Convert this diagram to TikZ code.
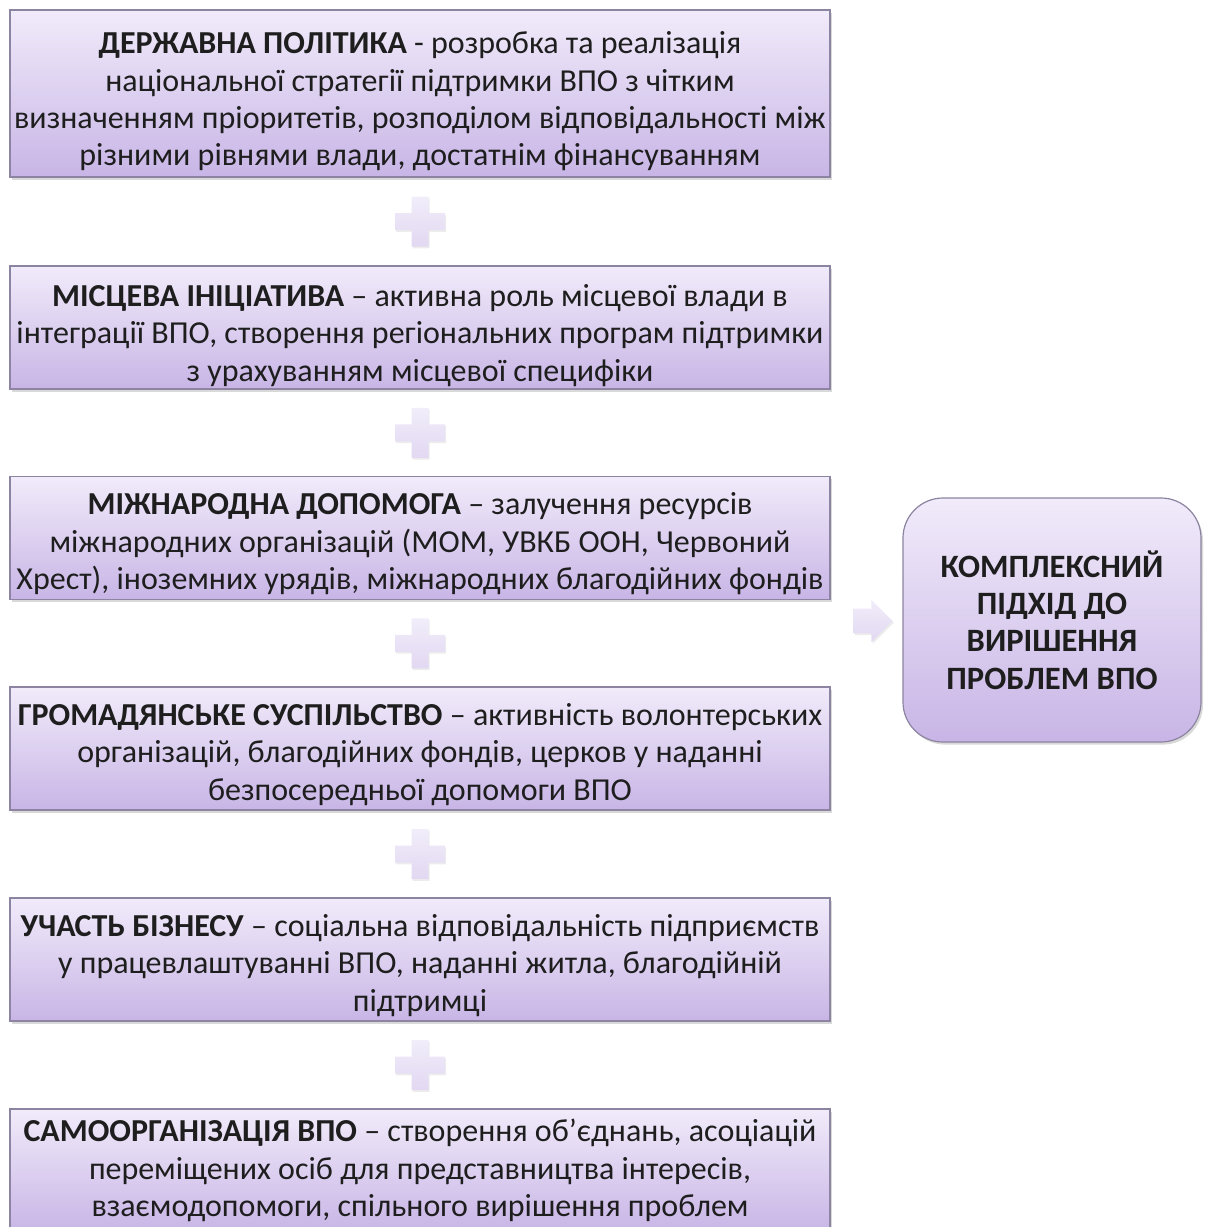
\documentclass[tikz,border=0pt]{standalone}
\usepackage{fontspec}
\setmainfont{Carlito}
\usetikzlibrary{calc,shadows,shapes.arrows}

\definecolor{boxtop}{HTML}{F1EBFA}
\definecolor{boxbot}{HTML}{C8B5E6}
\definecolor{boxedge}{HTML}{8C84A0}
\definecolor{signtop}{HTML}{F1EDFA}
\definecolor{signbot}{HTML}{E2D8F2}
\definecolor{ink}{HTML}{1E1E1E}

% extra room above the first line, pushes the text a bit down
\newcommand{\topgap}[1][17pt]{\rule{0pt}{#1}}

\tikzset{
  panel/.style={draw=boxedge, line width=0.6pt, top color=boxtop, bottom color=boxbot,
    inner sep=0pt, align=center, text=ink,
    drop shadow={shadow xshift=1pt, shadow yshift=-1.3pt, opacity=0.3}},
  stage/.style={panel, minimum width=410pt, minimum height=61.5pt,
    font=\fontsize{16}{18.7}\selectfont},
  goal/.style={panel, rounded corners=20pt, minimum width=149pt, minimum height=122pt,
    font=\fontsize{16.3}{18.7}\selectfont\bfseries},
  signshadow/.style={drop shadow={shadow xshift=0.6pt, shadow yshift=-0.9pt, opacity=0.15}}
}

\begin{document}
\begin{tikzpicture}[x=0.5pt, y=-0.5pt]
  \useasboundingbox (0,0) rectangle (1205,1227);

  % left column
  \node[stage, minimum height=83.5pt] (gov) at (420,93.5)
    {\topgap[19pt]\textbf{ДЕРЖАВНА ПОЛІТИКА} - розробка та реалізація\\
     національної стратегії підтримки ВПО з чітким\\
     визначенням пріоритетів, розподілом відповідальності між\\
     різними рівнями влади, достатнім фінансуванням};
  \node[stage] (local) at (420,327.5)
    {\topgap[19pt]\textbf{МІСЦЕВА ІНІЦІАТИВА} – активна роль місцевої влади в\\
     інтеграції ВПО, створення регіональних програм підтримки\\
     з урахуванням місцевої специфіки};
  \node[stage] (intl) at (420,538)
    {\topgap\textbf{МІЖНАРОДНА ДОПОМОГА} – залучення ресурсів\\
     міжнародних організацій (МОМ, УВКБ ООН, Червоний\\
     Хрест), іноземних урядів, міжнародних благодійних фондів};
  \node[stage] (civil) at (420,748.5)
    {\topgap\textbf{ГРОМАДЯНСЬКЕ СУСПІЛЬСТВО} – активність волонтерських\\
     організацій, благодійних фондів, церков у наданні\\
     безпосередньої допомоги ВПО};
  \node[stage] (biz) at (420,959.5)
    {\topgap\textbf{УЧАСТЬ БІЗНЕСУ} – соціальна відповідальність підприємств\\
     у працевлаштуванні ВПО, наданні житла, благодійній\\
     підтримці};
  \node[stage] (selforg) at (420,1170.5)
    {\topgap[11pt]\textbf{САМООРГАНІЗАЦІЯ ВПО} – створення об’єднань, асоціацій\\
     переміщених осіб для представництва інтересів,\\
     взаємодопомоги, спільного вирішення проблем};

  % plus signs between the boxes
  \foreach \a/\b in {gov/local, local/intl, intl/civil, civil/biz, biz/selforg}
    \path[top color=signtop, bottom color=signbot, signshadow]
      ($(\a.south)!0.5!(\b.north)$) ++(-8.5,-25)
      -- ++(17,0) -- ++(0,16.5) -- ++(16.5,0) -- ++(0,17) -- ++(-16.5,0)
      -- ++(0,16.5) -- ++(-17,0) -- ++(0,-16.5) -- ++(-16.5,0) -- ++(0,-17)
      -- ++(16.5,0) -- cycle;

  % result
  \node[goal] (result) at (1052,620)
    {КОМПЛЕКСНИЙ\\ ПІДХІД ДО\\ ВИРІШЕННЯ\\ ПРОБЛЕМ ВПО};
  \node[single arrow, top color=signtop, bottom color=signbot, signshadow,
    inner xsep=0pt, inner ysep=6pt, minimum height=19.5pt,
    single arrow head extend=4.5pt] (arr) at (867,621) {};
\end{tikzpicture}
\end{document}
